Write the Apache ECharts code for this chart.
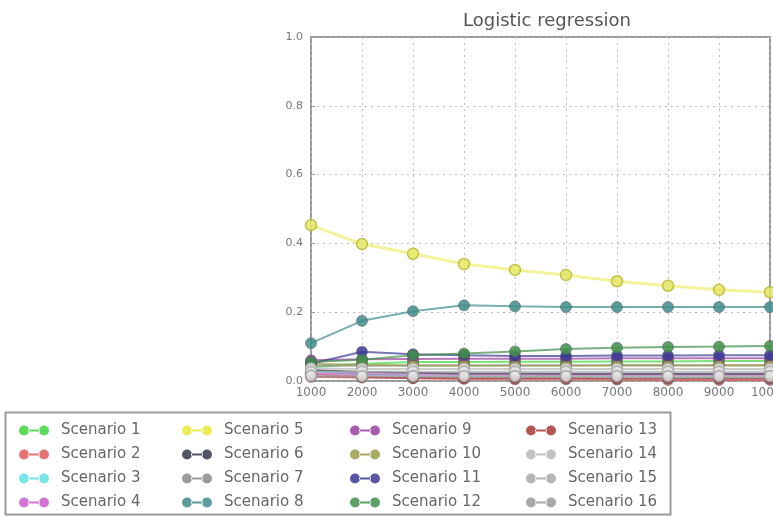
<!DOCTYPE html>
<html>
<head>
<meta charset="utf-8">
<script src="https://cdn.jsdelivr.net/npm/echarts@6/dist/echarts.min.js"></script>
<style>
  html, body { margin: 0; padding: 0; background: #fff; }
  #chart { width: 773px; height: 517px; }
</style>
</head>
<body>
<div id="chart"></div>
<script>
// sample sizes on the x axis
const sizes = [1000, 2000, 3000, 4000, 5000, 6000, 7000, 8000, 9000, 10000];
const yTicks = [0, 0.2, 0.4, 0.6, 0.8, 1.0];

const names = [
  'Scenario 1', 'Scenario 2', 'Scenario 3', 'Scenario 4',
  'Scenario 5', 'Scenario 6', 'Scenario 7', 'Scenario 8',
  'Scenario 9', 'Scenario 10', 'Scenario 11', 'Scenario 12',
  'Scenario 13', 'Scenario 14', 'Scenario 15', 'Scenario 16'
];
const colors = [
  '#3fd43f', '#e05a5a', '#5fe0e0', '#c95ccf',
  '#e8e83a', '#33364a', '#8a8a8a', '#3f8c8c',
  '#9a3f9f', '#9c9c4a', '#3a3a96', '#3f8f4a',
  '#a83a3a', '#b8b8b8', '#a8a8a8', '#9a9a9a'
];
const hollow = [false, false, true, false, true, false, false, false,
                false, false, false, false, false, true, true, true];

const s1  = [0.040, 0.050, 0.055, 0.055, 0.056, 0.056, 0.057, 0.057, 0.058, 0.058];
const s2  = [0.020, 0.012, 0.008, 0.006, 0.005, 0.005, 0.004, 0.003, 0.003, 0.003];
const s3  = [0.030, 0.018, 0.014, 0.012, 0.011, 0.010, 0.010, 0.009, 0.009, 0.009];
const s4  = [0.022, 0.020, 0.019, 0.019, 0.018, 0.018, 0.018, 0.018, 0.018, 0.018];
const s5  = [0.453, 0.398, 0.370, 0.340, 0.323, 0.308, 0.290, 0.277, 0.265, 0.258];
const s6  = [0.032, 0.026, 0.024, 0.022, 0.022, 0.021, 0.021, 0.021, 0.021, 0.021];
const s7  = [0.045, 0.044, 0.044, 0.045, 0.045, 0.045, 0.046, 0.046, 0.046, 0.046];
const s8  = [0.110, 0.175, 0.203, 0.220, 0.217, 0.215, 0.215, 0.215, 0.215, 0.215];
const s9  = [0.060, 0.063, 0.064, 0.065, 0.065, 0.065, 0.066, 0.066, 0.066, 0.066];
const s10 = [0.050, 0.047, 0.046, 0.045, 0.045, 0.045, 0.045, 0.045, 0.045, 0.045];
const s11 = [0.050, 0.085, 0.078, 0.075, 0.073, 0.073, 0.074, 0.074, 0.075, 0.075];
const s12 = [0.055, 0.062, 0.075, 0.080, 0.086, 0.093, 0.097, 0.099, 0.100, 0.102];
const s13 = [0.012, 0.010, 0.009, 0.008, 0.008, 0.008, 0.007, 0.007, 0.007, 0.007];
const s14 = [0.036, 0.035, 0.035, 0.035, 0.035, 0.035, 0.035, 0.035, 0.035, 0.035];
const s15 = [0.026, 0.027, 0.027, 0.027, 0.027, 0.027, 0.027, 0.027, 0.027, 0.027];
const s16 = [0.015, 0.014, 0.014, 0.014, 0.014, 0.014, 0.014, 0.014, 0.014, 0.014];
const values = [s1, s2, s3, s4, s5, s6, s7, s8, s9, s10, s11, s12, s13, s14, s15, s16];

const chart = echarts.init(document.getElementById('chart'), null, { renderer: 'canvas' });

// legend glyph: two dots joined by a short line
const twoDots = 'path://M0,5a5,5 0 1,0 10,0a5,5 0 1,0 -10,0ZM20,5a5,5 0 1,0 10,0a5,5 0 1,0 -10,0ZM9,4h12v2h-12Z';

const series = names.map((name, i) => ({
  name: name,
  type: 'line',
  data: sizes.map((x, k) => [x, values[i][k]]),
  symbol: 'circle',
  symbolSize: 11,
  color: colors[i],
  lineStyle: { width: i === 4 ? 3 : 2, color: colors[i], opacity: i === 4 ? 0.5 : 0.7 },
  itemStyle: hollow[i]
    ? { color: i === 4 ? '#e6e66a' : '#e4e4e4', borderColor: i === 4 ? '#b8b830' : colors[i], borderWidth: 1.5, opacity: 0.85 }
    : { color: colors[i], borderColor: '#555', borderWidth: 0.6, opacity: 0.85 },
  z: 2 + i
}));

const legendCols = [0, 1, 2, 3].map(c => ({
  data: names.slice(c * 4, c * 4 + 4).map((n, j) => ({
    name: n,
    icon: twoDots,
    itemStyle: { color: colors[c * 4 + j], borderWidth: 0, opacity: 0.85 }
  })),
  orient: 'vertical',
  left: [14, 177, 345, 521][c],
  top: 418,
  height: 200,
  itemWidth: 30,
  itemHeight: 10,
  itemGap: 9,
  textStyle: { fontFamily: 'DejaVu Sans', fontSize: 15, color: '#666', padding: [0, 0, 0, 7] },
  selectedMode: false
}));

chart.setOption({
  animation: false,
  title: {
    text: 'Logistic regression',
    left: 542,
    textAlign: 'center',
    top: 7,
    textStyle: { fontFamily: 'DejaVu Sans', fontSize: 18, fontWeight: 'normal', color: '#555' }
  },
  grid: {
    left: 311, top: 37, right: 3, bottom: 136,
    outerBoundsMode: 'none',
    show: true, borderColor: '#999', borderWidth: 2, backgroundColor: '#fff'
  },
  legend: legendCols,
  graphic: [{
    type: 'rect',
    shape: { x: 5.5, y: 412.5, width: 665, height: 102 },
    style: { fill: 'none', stroke: '#999', lineWidth: 2 },
    silent: true
  }],
  xAxis: {
    type: 'value',
    min: 1000, max: 10000, interval: 1000,
    axisLine: { show: false },
    axisTick: { inside: true, length: 4, lineStyle: { color: '#999' } },
    axisLabel: { fontFamily: 'DejaVu Sans', fontSize: 12, color: '#777', margin: 6,
      formatter: v => String(v) },
    splitLine: { show: true, lineStyle: { type: [2, 4], color: '#bbb' } }
  },
  yAxis: {
    type: 'value',
    min: yTicks[0], max: yTicks[yTicks.length - 1], interval: 0.2,
    axisLine: { show: false },
    axisTick: { show: true, inside: true, length: 4, lineStyle: { color: '#999' } },
    axisLabel: { fontFamily: 'DejaVu Sans', fontSize: 11, color: '#777', margin: 8,
      formatter: v => v.toFixed(1) },
    splitLine: { show: true, lineStyle: { type: [2, 4], color: '#bbb' } }
  },
  series: series
});
</script>
</body>
</html>
